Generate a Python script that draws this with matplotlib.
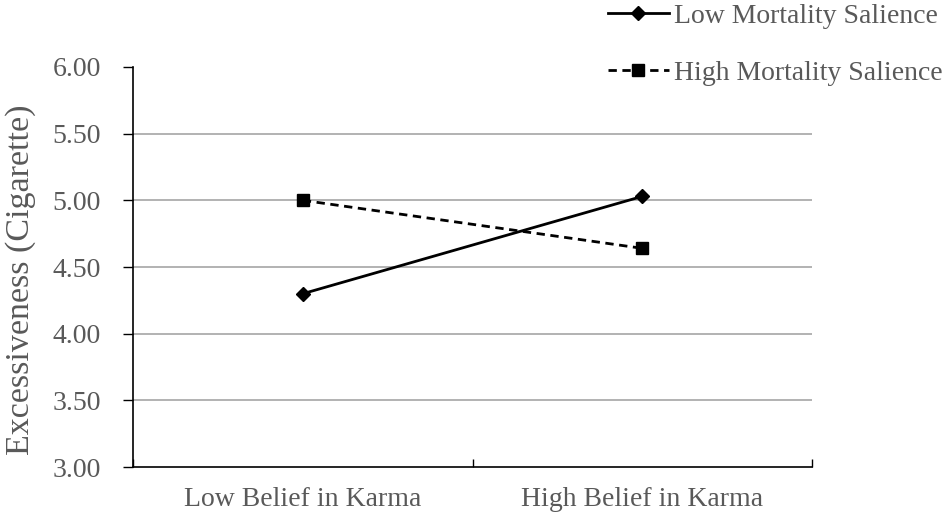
import matplotlib.pyplot as plt
import numpy as np

plt.rcParams['font.family'] = ['Liberation Serif', 'DejaVu Serif']

# данные
categories = ['Low Belief in Karma', 'High Belief in Karma']
low_ms = [4.30, 5.03]
high_ms = [5.00, 4.64]
series_names = ['Low Mortality Salience', 'High Mortality Salience']
y_ticks = [3.00, 3.50, 4.00, 4.50, 5.00, 5.50, 6.00]

fig = plt.figure(figsize=(9.5, 5.19), dpi=100)
ax = fig.add_axes([0.140, 0.100, 0.715, 0.771])

x = np.arange(len(categories))
ax.plot(x, low_ms, color='black', linewidth=2, marker='D', markersize=7,
        label=series_names[0])
ax.plot(x, high_ms, color='black', linewidth=2, linestyle=(0, (3, 2)),
        marker='s', markersize=9, label=series_names[1])

ax.set_xlim(-0.5, 1.5)
ax.set_ylim(3.0, 6.0)
ax.set_yticks(y_ticks)
ax.set_yticklabels([f'{v:.2f}' for v in y_ticks], fontsize=20, color='#595959')
# сетка без линии на 3.00 и 6.00
for v in y_ticks[1:-1]:
    ax.axhline(v, color='#a6a6a6', linewidth=1.2, zorder=0)

ax.set_xticks([-0.5, 0.5, 1.5])
ax.set_xticklabels([])
ax.tick_params(axis='x', direction='in', length=6, width=1)
ax.set_xticks(x, minor=True)
ax.set_xticklabels(categories, minor=True, fontsize=20, color='#595959')
ax.tick_params(axis='x', which='minor', length=0, pad=14)
ax.tick_params(axis='y', direction='out', length=7, width=1, pad=16)

for s in ['top', 'right']:
    ax.spines[s].set_visible(False)
ax.spines['left'].set_linewidth(1.2)
ax.spines['bottom'].set_linewidth(1.2)

ax.set_ylabel('Excessiveness (Cigarette)', fontsize=24.5, color='#595959')
ax.yaxis.set_label_coords(-0.143, 0.4675)

fig.legend(loc='upper right', bbox_to_anchor=(1.019, 1.042), frameon=False,
           fontsize=20, labelcolor='#595959', handlelength=2.2, handletextpad=0.2,
           labelspacing=1.15)

fig.savefig('out.png', dpi=100)
